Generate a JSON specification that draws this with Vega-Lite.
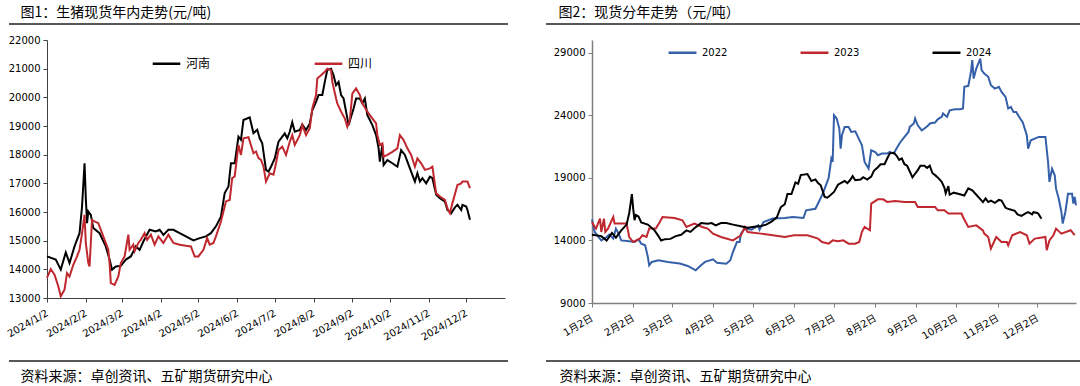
{
  "$schema": "https://vega.github.io/schema/vega-lite/v6.json",
  "padding": {"left": 5, "top": 5, "right": 0, "bottom": 4},
  "background": "white",
  "config": {
    "view": {"stroke": null},
    "axis": {"grid": false, "labelOverlap": false, "labelFont": "DejaVu Sans, Noto Sans CJK SC", "labelFontSize": 10, "labelColor": "#000000", "titleFontWeight": "normal", "titleColor": "#000000"}
  },
  "resolve": {"scale": {"color": "independent"}, "legend": {"color": "independent"}},
  "datasets": {
    "pig": [
      {"date": "2022/01/02", "year": "2022", "v": 15680}, {"date": "2022/01/04", "year": "2022", "v": 14670}, {"date": "2022/01/06", "year": "2022", "v": 14400}, {"date": "2022/01/09", "year": "2022", "v": 14000}, {"date": "2022/01/13", "year": "2022", "v": 14270}, {"date": "2022/01/15", "year": "2022", "v": 14460}, {"date": "2022/01/18", "year": "2022", "v": 14140}, {"date": "2022/01/20", "year": "2022", "v": 14940}, {"date": "2022/01/22", "year": "2022", "v": 14540}, {"date": "2022/01/24", "year": "2022", "v": 14000}, {"date": "2022/01/30", "year": "2022", "v": 13930}, {"date": "2022/02/03", "year": "2022", "v": 13870}, {"date": "2022/02/06", "year": "2022", "v": 14080}, {"date": "2022/02/08", "year": "2022", "v": 13740}, {"date": "2022/02/11", "year": "2022", "v": 13610}, {"date": "2022/02/13", "year": "2022", "v": 12680}, {"date": "2022/02/14", "year": "2022", "v": 12010}, {"date": "2022/02/16", "year": "2022", "v": 12280}, {"date": "2022/02/21", "year": "2022", "v": 12410}, {"date": "2022/02/28", "year": "2022", "v": 12280}, {"date": "2022/03/08", "year": "2022", "v": 12150}, {"date": "2022/03/14", "year": "2022", "v": 11960}, {"date": "2022/03/20", "year": "2022", "v": 11610}, {"date": "2022/03/24", "year": "2022", "v": 12010}, {"date": "2022/03/27", "year": "2022", "v": 12280}, {"date": "2022/04/02", "year": "2022", "v": 12490}, {"date": "2022/04/05", "year": "2022", "v": 12220}, {"date": "2022/04/12", "year": "2022", "v": 12140}, {"date": "2022/04/15", "year": "2022", "v": 12410}, {"date": "2022/04/17", "year": "2022", "v": 13070}, {"date": "2022/04/20", "year": "2022", "v": 13870}, {"date": "2022/04/22", "year": "2022", "v": 13870}, {"date": "2022/04/23", "year": "2022", "v": 14540}, {"date": "2022/04/26", "year": "2022", "v": 14940}, {"date": "2022/05/01", "year": "2022", "v": 14860}, {"date": "2022/05/06", "year": "2022", "v": 15200}, {"date": "2022/05/07", "year": "2022", "v": 14860}, {"date": "2022/05/10", "year": "2022", "v": 15470}, {"date": "2022/05/17", "year": "2022", "v": 15740}, {"date": "2022/05/26", "year": "2022", "v": 15790}, {"date": "2022/06/01", "year": "2022", "v": 15870}, {"date": "2022/06/09", "year": "2022", "v": 15790}, {"date": "2022/06/11", "year": "2022", "v": 16400}, {"date": "2022/06/18", "year": "2022", "v": 16520}, {"date": "2022/06/20", "year": "2022", "v": 16940}, {"date": "2022/06/23", "year": "2022", "v": 17600}, {"date": "2022/06/25", "year": "2022", "v": 18130}, {"date": "2022/06/28", "year": "2022", "v": 19000}, {"date": "2022/06/30", "year": "2022", "v": 20530}, {"date": "2022/07/01", "year": "2022", "v": 20260}, {"date": "2022/07/02", "year": "2022", "v": 23990}, {"date": "2022/07/04", "year": "2022", "v": 23730}, {"date": "2022/07/06", "year": "2022", "v": 22930}, {"date": "2022/07/07", "year": "2022", "v": 21330}, {"date": "2022/07/08", "year": "2022", "v": 22400}, {"date": "2022/07/10", "year": "2022", "v": 23060}, {"date": "2022/07/13", "year": "2022", "v": 23060}, {"date": "2022/07/15", "year": "2022", "v": 22660}, {"date": "2022/07/18", "year": "2022", "v": 22710}, {"date": "2022/07/20", "year": "2022", "v": 22260}, {"date": "2022/07/23", "year": "2022", "v": 21600}, {"date": "2022/07/25", "year": "2022", "v": 20260}, {"date": "2022/07/28", "year": "2022", "v": 19730}, {"date": "2022/07/30", "year": "2022", "v": 21200}, {"date": "2022/08/02", "year": "2022", "v": 21060}, {"date": "2022/08/04", "year": "2022", "v": 20800}, {"date": "2022/08/07", "year": "2022", "v": 20930}, {"date": "2022/08/11", "year": "2022", "v": 20930}, {"date": "2022/08/13", "year": "2022", "v": 21060}, {"date": "2022/08/16", "year": "2022", "v": 20930}, {"date": "2022/08/18", "year": "2022", "v": 21330}, {"date": "2022/08/21", "year": "2022", "v": 21860}, {"date": "2022/08/23", "year": "2022", "v": 22130}, {"date": "2022/08/27", "year": "2022", "v": 22660}, {"date": "2022/08/28", "year": "2022", "v": 23060}, {"date": "2022/08/31", "year": "2022", "v": 23330}, {"date": "2022/09/01", "year": "2022", "v": 23730}, {"date": "2022/09/03", "year": "2022", "v": 23190}, {"date": "2022/09/06", "year": "2022", "v": 22790}, {"date": "2022/09/08", "year": "2022", "v": 22930}, {"date": "2022/09/11", "year": "2022", "v": 23190}, {"date": "2022/09/12", "year": "2022", "v": 23330}, {"date": "2022/09/16", "year": "2022", "v": 23410}, {"date": "2022/09/18", "year": "2022", "v": 23670}, {"date": "2022/09/21", "year": "2022", "v": 23860}, {"date": "2022/09/22", "year": "2022", "v": 24130}, {"date": "2022/09/25", "year": "2022", "v": 23860}, {"date": "2022/09/27", "year": "2022", "v": 24390}, {"date": "2022/10/01", "year": "2022", "v": 24470}, {"date": "2022/10/05", "year": "2022", "v": 24470}, {"date": "2022/10/07", "year": "2022", "v": 24530}, {"date": "2022/10/08", "year": "2022", "v": 26260}, {"date": "2022/10/11", "year": "2022", "v": 26340}, {"date": "2022/10/13", "year": "2022", "v": 27450}, {"date": "2022/10/14", "year": "2022", "v": 28390}, {"date": "2022/10/15", "year": "2022", "v": 26920}, {"date": "2022/10/17", "year": "2022", "v": 27720}, {"date": "2022/10/20", "year": "2022", "v": 28520}, {"date": "2022/10/21", "year": "2022", "v": 27590}, {"date": "2022/10/23", "year": "2022", "v": 27320}, {"date": "2022/10/26", "year": "2022", "v": 27060}, {"date": "2022/10/28", "year": "2022", "v": 26390}, {"date": "2022/10/31", "year": "2022", "v": 26120}, {"date": "2022/11/03", "year": "2022", "v": 26260}, {"date": "2022/11/05", "year": "2022", "v": 25860}, {"date": "2022/11/08", "year": "2022", "v": 25460}, {"date": "2022/11/10", "year": "2022", "v": 24530}, {"date": "2022/11/12", "year": "2022", "v": 24660}, {"date": "2022/11/14", "year": "2022", "v": 24260}, {"date": "2022/11/16", "year": "2022", "v": 24260}, {"date": "2022/11/19", "year": "2022", "v": 23730}, {"date": "2022/11/21", "year": "2022", "v": 23410}, {"date": "2022/11/24", "year": "2022", "v": 22400}, {"date": "2022/11/25", "year": "2022", "v": 21330}, {"date": "2022/11/27", "year": "2022", "v": 21990}, {"date": "2022/11/30", "year": "2022", "v": 22130}, {"date": "2022/12/03", "year": "2022", "v": 22260}, {"date": "2022/12/08", "year": "2022", "v": 22260}, {"date": "2022/12/10", "year": "2022", "v": 20260}, {"date": "2022/12/11", "year": "2022", "v": 18670}, {"date": "2022/12/13", "year": "2022", "v": 19730}, {"date": "2022/12/15", "year": "2022", "v": 19200}, {"date": "2022/12/16", "year": "2022", "v": 18130}, {"date": "2022/12/18", "year": "2022", "v": 17340}, {"date": "2022/12/20", "year": "2022", "v": 16270}, {"date": "2022/12/21", "year": "2022", "v": 15340}, {"date": "2022/12/23", "year": "2022", "v": 16270}, {"date": "2022/12/25", "year": "2022", "v": 17730}, {"date": "2022/12/28", "year": "2022", "v": 17730}, {"date": "2022/12/29", "year": "2022", "v": 16940}, {"date": "2022/12/30", "year": "2022", "v": 17470}, {"date": "2022/12/31", "year": "2022", "v": 16800},
      {"date": "2023/01/02", "year": "2023", "v": 15470}, {"date": "2023/01/04", "year": "2023", "v": 15070}, {"date": "2023/01/05", "year": "2023", "v": 14940}, {"date": "2023/01/08", "year": "2023", "v": 15740}, {"date": "2023/01/09", "year": "2023", "v": 14670}, {"date": "2023/01/11", "year": "2023", "v": 15740}, {"date": "2023/01/12", "year": "2023", "v": 14670}, {"date": "2023/01/14", "year": "2023", "v": 14940}, {"date": "2023/01/18", "year": "2023", "v": 15870}, {"date": "2023/01/19", "year": "2023", "v": 15340}, {"date": "2023/01/28", "year": "2023", "v": 15340}, {"date": "2023/01/30", "year": "2023", "v": 14270}, {"date": "2023/02/02", "year": "2023", "v": 13870}, {"date": "2023/02/07", "year": "2023", "v": 14140}, {"date": "2023/02/09", "year": "2023", "v": 14410}, {"date": "2023/02/12", "year": "2023", "v": 14270}, {"date": "2023/02/14", "year": "2023", "v": 14940}, {"date": "2023/02/19", "year": "2023", "v": 14940}, {"date": "2023/02/22", "year": "2023", "v": 15470}, {"date": "2023/02/24", "year": "2023", "v": 15870}, {"date": "2023/03/04", "year": "2023", "v": 15790}, {"date": "2023/03/10", "year": "2023", "v": 15600}, {"date": "2023/03/13", "year": "2023", "v": 15070}, {"date": "2023/03/19", "year": "2023", "v": 15340}, {"date": "2023/03/25", "year": "2023", "v": 15070}, {"date": "2023/03/29", "year": "2023", "v": 14940}, {"date": "2023/04/02", "year": "2023", "v": 14540}, {"date": "2023/04/08", "year": "2023", "v": 14270}, {"date": "2023/04/17", "year": "2023", "v": 14000}, {"date": "2023/04/23", "year": "2023", "v": 14410}, {"date": "2023/04/26", "year": "2023", "v": 15070}, {"date": "2023/04/28", "year": "2023", "v": 14670}, {"date": "2023/05/08", "year": "2023", "v": 14540}, {"date": "2023/05/17", "year": "2023", "v": 14410}, {"date": "2023/05/26", "year": "2023", "v": 14270}, {"date": "2023/06/02", "year": "2023", "v": 14410}, {"date": "2023/06/12", "year": "2023", "v": 14410}, {"date": "2023/06/20", "year": "2023", "v": 14140}, {"date": "2023/06/23", "year": "2023", "v": 13870}, {"date": "2023/06/28", "year": "2023", "v": 13740}, {"date": "2023/07/01", "year": "2023", "v": 14000}, {"date": "2023/07/05", "year": "2023", "v": 13930}, {"date": "2023/07/09", "year": "2023", "v": 14000}, {"date": "2023/07/13", "year": "2023", "v": 13740}, {"date": "2023/07/18", "year": "2023", "v": 13740}, {"date": "2023/07/21", "year": "2023", "v": 13870}, {"date": "2023/07/23", "year": "2023", "v": 14680}, {"date": "2023/07/25", "year": "2023", "v": 15070}, {"date": "2023/07/29", "year": "2023", "v": 14810}, {"date": "2023/07/30", "year": "2023", "v": 16940}, {"date": "2023/08/04", "year": "2023", "v": 17280}, {"date": "2023/08/08", "year": "2023", "v": 17280}, {"date": "2023/08/11", "year": "2023", "v": 17070}, {"date": "2023/08/17", "year": "2023", "v": 17150}, {"date": "2023/08/24", "year": "2023", "v": 17070}, {"date": "2023/09/01", "year": "2023", "v": 17070}, {"date": "2023/09/03", "year": "2023", "v": 16670}, {"date": "2023/09/11", "year": "2023", "v": 16670}, {"date": "2023/09/16", "year": "2023", "v": 16670}, {"date": "2023/09/18", "year": "2023", "v": 16400}, {"date": "2023/09/23", "year": "2023", "v": 16400}, {"date": "2023/09/26", "year": "2023", "v": 16140}, {"date": "2023/10/06", "year": "2023", "v": 16140}, {"date": "2023/10/07", "year": "2023", "v": 15870}, {"date": "2023/10/11", "year": "2023", "v": 15070}, {"date": "2023/10/17", "year": "2023", "v": 15200}, {"date": "2023/10/22", "year": "2023", "v": 14800}, {"date": "2023/10/23", "year": "2023", "v": 14540}, {"date": "2023/10/26", "year": "2023", "v": 14270}, {"date": "2023/10/28", "year": "2023", "v": 13340}, {"date": "2023/11/01", "year": "2023", "v": 14270}, {"date": "2023/11/05", "year": "2023", "v": 13870}, {"date": "2023/11/09", "year": "2023", "v": 13870}, {"date": "2023/11/10", "year": "2023", "v": 13610}, {"date": "2023/11/13", "year": "2023", "v": 14410}, {"date": "2023/11/19", "year": "2023", "v": 14670}, {"date": "2023/11/24", "year": "2023", "v": 14410}, {"date": "2023/11/26", "year": "2023", "v": 13740}, {"date": "2023/11/30", "year": "2023", "v": 14140}, {"date": "2023/12/08", "year": "2023", "v": 14270}, {"date": "2023/12/09", "year": "2023", "v": 13210}, {"date": "2023/12/11", "year": "2023", "v": 14000}, {"date": "2023/12/14", "year": "2023", "v": 14410}, {"date": "2023/12/16", "year": "2023", "v": 14940}, {"date": "2023/12/20", "year": "2023", "v": 14540}, {"date": "2023/12/27", "year": "2023", "v": 14810}, {"date": "2023/12/30", "year": "2023", "v": 14410},
      {"date": "2024/01/02", "region": "河南", "year": "2024", "v": 14450}, {"date": "2024/01/09", "region": "河南", "year": "2024", "v": 14340}, {"date": "2024/01/13", "region": "河南", "year": "2024", "v": 13990}, {"date": "2024/01/17", "region": "河南", "year": "2024", "v": 14590}, {"date": "2024/01/20", "region": "河南", "year": "2024", "v": 14220}, {"date": "2024/01/24", "region": "河南", "year": "2024", "v": 14800}, {"date": "2024/01/28", "region": "河南", "year": "2024", "v": 15260}, {"date": "2024/01/30", "region": "河南", "year": "2024", "v": 16190}, {"date": "2024/02/01", "region": "河南", "year": "2024", "v": 17700}, {"date": "2024/02/02", "region": "河南", "year": "2024", "v": 16500}, {"date": "2024/02/03", "region": "河南", "year": "2024", "v": 15610}, {"date": "2024/02/04", "region": "河南", "year": "2024", "v": 16020}, {"date": "2024/02/06", "region": "河南", "year": "2024", "v": 15900}, {"date": "2024/02/08", "region": "河南", "year": "2024", "v": 15440}, {"date": "2024/02/13", "region": "河南", "year": "2024", "v": 15260}, {"date": "2024/02/18", "region": "河南", "year": "2024", "v": 14800}, {"date": "2024/02/21", "region": "河南", "year": "2024", "v": 14340}, {"date": "2024/02/23", "region": "河南", "year": "2024", "v": 13990}, {"date": "2024/02/26", "region": "河南", "year": "2024", "v": 14100}, {"date": "2024/03/01", "region": "河南", "year": "2024", "v": 14120}, {"date": "2024/03/05", "region": "河南", "year": "2024", "v": 14340}, {"date": "2024/03/09", "region": "河南", "year": "2024", "v": 14450}, {"date": "2024/03/13", "region": "河南", "year": "2024", "v": 14800}, {"date": "2024/03/16", "region": "河南", "year": "2024", "v": 14680}, {"date": "2024/03/19", "region": "河南", "year": "2024", "v": 14970}, {"date": "2024/03/24", "region": "河南", "year": "2024", "v": 15380}, {"date": "2024/03/29", "region": "河南", "year": "2024", "v": 15320}, {"date": "2024/04/01", "region": "河南", "year": "2024", "v": 15380}, {"date": "2024/04/04", "region": "河南", "year": "2024", "v": 15200}, {"date": "2024/04/08", "region": "河南", "year": "2024", "v": 15380}, {"date": "2024/04/12", "region": "河南", "year": "2024", "v": 15380}, {"date": "2024/04/17", "region": "河南", "year": "2024", "v": 15260}, {"date": "2024/04/22", "region": "河南", "year": "2024", "v": 15150}, {"date": "2024/04/28", "region": "河南", "year": "2024", "v": 15010}, {"date": "2024/05/03", "region": "河南", "year": "2024", "v": 15090}, {"date": "2024/05/08", "region": "河南", "year": "2024", "v": 15150}, {"date": "2024/05/12", "region": "河南", "year": "2024", "v": 15260}, {"date": "2024/05/16", "region": "河南", "year": "2024", "v": 15500}, {"date": "2024/05/20", "region": "河南", "year": "2024", "v": 15840}, {"date": "2024/05/23", "region": "河南", "year": "2024", "v": 16660}, {"date": "2024/05/26", "region": "河南", "year": "2024", "v": 16890}, {"date": "2024/05/28", "region": "河南", "year": "2024", "v": 17700}, {"date": "2024/05/31", "region": "河南", "year": "2024", "v": 17700}, {"date": "2024/06/03", "region": "河南", "year": "2024", "v": 18630}, {"date": "2024/06/05", "region": "河南", "year": "2024", "v": 18520}, {"date": "2024/06/07", "region": "河南", "year": "2024", "v": 19210}, {"date": "2024/06/12", "region": "河南", "year": "2024", "v": 19300}, {"date": "2024/06/15", "region": "河南", "year": "2024", "v": 18750}, {"date": "2024/06/18", "region": "河南", "year": "2024", "v": 18870}, {"date": "2024/06/20", "region": "河南", "year": "2024", "v": 18570}, {"date": "2024/06/22", "region": "河南", "year": "2024", "v": 18400}, {"date": "2024/06/25", "region": "河南", "year": "2024", "v": 17470}, {"date": "2024/06/27", "region": "河南", "year": "2024", "v": 17410}, {"date": "2024/06/29", "region": "河南", "year": "2024", "v": 17580}, {"date": "2024/07/02", "region": "河南", "year": "2024", "v": 17870}, {"date": "2024/07/05", "region": "河南", "year": "2024", "v": 18450}, {"date": "2024/07/07", "region": "河南", "year": "2024", "v": 18570}, {"date": "2024/07/10", "region": "河南", "year": "2024", "v": 18740}, {"date": "2024/07/12", "region": "河南", "year": "2024", "v": 18570}, {"date": "2024/07/14", "region": "河南", "year": "2024", "v": 18800}, {"date": "2024/07/16", "region": "河南", "year": "2024", "v": 19130}, {"date": "2024/07/18", "region": "河南", "year": "2024", "v": 18800}, {"date": "2024/07/22", "region": "河南", "year": "2024", "v": 18860}, {"date": "2024/07/24", "region": "河南", "year": "2024", "v": 19050}, {"date": "2024/07/27", "region": "河南", "year": "2024", "v": 18860}, {"date": "2024/07/30", "region": "河南", "year": "2024", "v": 19090}, {"date": "2024/08/01", "region": "河南", "year": "2024", "v": 19550}, {"date": "2024/08/04", "region": "河南", "year": "2024", "v": 19840}, {"date": "2024/08/06", "region": "河南", "year": "2024", "v": 20080}, {"date": "2024/08/09", "region": "河南", "year": "2024", "v": 20080}, {"date": "2024/08/11", "region": "河南", "year": "2024", "v": 20540}, {"date": "2024/08/13", "region": "河南", "year": "2024", "v": 20950}, {"date": "2024/08/16", "region": "河南", "year": "2024", "v": 21000}, {"date": "2024/08/18", "region": "河南", "year": "2024", "v": 20770}, {"date": "2024/08/20", "region": "河南", "year": "2024", "v": 20420}, {"date": "2024/08/22", "region": "河南", "year": "2024", "v": 20540}, {"date": "2024/08/24", "region": "河南", "year": "2024", "v": 20080}, {"date": "2024/08/26", "region": "河南", "year": "2024", "v": 19960}, {"date": "2024/08/28", "region": "河南", "year": "2024", "v": 19500}, {"date": "2024/08/30", "region": "河南", "year": "2024", "v": 19030}, {"date": "2024/09/01", "region": "河南", "year": "2024", "v": 19320}, {"date": "2024/09/03", "region": "河南", "year": "2024", "v": 19610}, {"date": "2024/09/05", "region": "河南", "year": "2024", "v": 19960}, {"date": "2024/09/08", "region": "河南", "year": "2024", "v": 19960}, {"date": "2024/09/10", "region": "河南", "year": "2024", "v": 19790}, {"date": "2024/09/12", "region": "河南", "year": "2024", "v": 19960}, {"date": "2024/09/14", "region": "河南", "year": "2024", "v": 19380}, {"date": "2024/09/16", "region": "河南", "year": "2024", "v": 19210}, {"date": "2024/09/18", "region": "河南", "year": "2024", "v": 19030}, {"date": "2024/09/21", "region": "河南", "year": "2024", "v": 18680}, {"date": "2024/09/23", "region": "河南", "year": "2024", "v": 18220}, {"date": "2024/09/24", "region": "河南", "year": "2024", "v": 17760}, {"date": "2024/09/26", "region": "河南", "year": "2024", "v": 18340}, {"date": "2024/09/27", "region": "河南", "year": "2024", "v": 17640}, {"date": "2024/09/30", "region": "河南", "year": "2024", "v": 17810}, {"date": "2024/10/04", "region": "河南", "year": "2024", "v": 17700}, {"date": "2024/10/08", "region": "河南", "year": "2024", "v": 17580}, {"date": "2024/10/11", "region": "河南", "year": "2024", "v": 18160}, {"date": "2024/10/14", "region": "河南", "year": "2024", "v": 17990}, {"date": "2024/10/16", "region": "河南", "year": "2024", "v": 17760}, {"date": "2024/10/19", "region": "河南", "year": "2024", "v": 17410}, {"date": "2024/10/22", "region": "河南", "year": "2024", "v": 17060}, {"date": "2024/10/24", "region": "河南", "year": "2024", "v": 17350}, {"date": "2024/10/26", "region": "河南", "year": "2024", "v": 17060}, {"date": "2024/10/28", "region": "河南", "year": "2024", "v": 17180}, {"date": "2024/10/31", "region": "河南", "year": "2024", "v": 17000}, {"date": "2024/11/03", "region": "河南", "year": "2024", "v": 17230}, {"date": "2024/11/05", "region": "河南", "year": "2024", "v": 17180}, {"date": "2024/11/08", "region": "河南", "year": "2024", "v": 16600}, {"date": "2024/11/11", "region": "河南", "year": "2024", "v": 16480}, {"date": "2024/11/15", "region": "河南", "year": "2024", "v": 16360}, {"date": "2024/11/17", "region": "河南", "year": "2024", "v": 16070}, {"date": "2024/11/20", "region": "河南", "year": "2024", "v": 15960}, {"date": "2024/11/23", "region": "河南", "year": "2024", "v": 16160}, {"date": "2024/11/25", "region": "河南", "year": "2024", "v": 16250}, {"date": "2024/11/28", "region": "河南", "year": "2024", "v": 16070}, {"date": "2024/11/29", "region": "河南", "year": "2024", "v": 16250}, {"date": "2024/12/02", "region": "河南", "year": "2024", "v": 16190}, {"date": "2024/12/03", "region": "河南", "year": "2024", "v": 16070}, {"date": "2024/12/05", "region": "河南", "year": "2024", "v": 15730},
      {"date": "2024/01/02", "region": "四川", "v": 13700}, {"date": "2024/01/05", "region": "四川", "v": 14010}, {"date": "2024/01/08", "region": "四川", "v": 13810}, {"date": "2024/01/11", "region": "四川", "v": 13410}, {"date": "2024/01/13", "region": "四川", "v": 13060}, {"date": "2024/01/16", "region": "四川", "v": 13290}, {"date": "2024/01/18", "region": "四川", "v": 13870}, {"date": "2024/01/20", "region": "四川", "v": 13750}, {"date": "2024/01/23", "region": "四川", "v": 14160}, {"date": "2024/01/26", "region": "四川", "v": 14450}, {"date": "2024/01/28", "region": "四川", "v": 14680}, {"date": "2024/01/30", "region": "四川", "v": 15260}, {"date": "2024/02/01", "region": "四川", "v": 15900}, {"date": "2024/02/02", "region": "四川", "v": 14920}, {"date": "2024/02/04", "region": "四川", "v": 14220}, {"date": "2024/02/05", "region": "四川", "v": 14100}, {"date": "2024/02/07", "region": "四川", "v": 15730}, {"date": "2024/02/09", "region": "四川", "v": 15670}, {"date": "2024/02/12", "region": "四川", "v": 15610}, {"date": "2024/02/16", "region": "四川", "v": 15150}, {"date": "2024/02/20", "region": "四川", "v": 14680}, {"date": "2024/02/21", "region": "四川", "v": 14220}, {"date": "2024/02/22", "region": "四川", "v": 13520}, {"date": "2024/02/25", "region": "四川", "v": 13460}, {"date": "2024/02/28", "region": "四川", "v": 13750}, {"date": "2024/03/01", "region": "四川", "v": 14220}, {"date": "2024/03/04", "region": "四川", "v": 14450}, {"date": "2024/03/07", "region": "四川", "v": 15210}, {"date": "2024/03/08", "region": "四川", "v": 14680}, {"date": "2024/03/11", "region": "四川", "v": 14860}, {"date": "2024/03/12", "region": "四川", "v": 14630}, {"date": "2024/03/15", "region": "四川", "v": 14920}, {"date": "2024/03/17", "region": "四川", "v": 15030}, {"date": "2024/03/20", "region": "四川", "v": 15260}, {"date": "2024/03/22", "region": "四川", "v": 15030}, {"date": "2024/03/25", "region": "四川", "v": 15210}, {"date": "2024/03/28", "region": "四川", "v": 14860}, {"date": "2024/03/31", "region": "四川", "v": 15150}, {"date": "2024/04/04", "region": "四川", "v": 14920}, {"date": "2024/04/08", "region": "四川", "v": 15210}, {"date": "2024/04/12", "region": "四川", "v": 14920}, {"date": "2024/04/17", "region": "四川", "v": 14860}, {"date": "2024/04/22", "region": "四川", "v": 14820}, {"date": "2024/04/26", "region": "四川", "v": 14800}, {"date": "2024/04/29", "region": "四川", "v": 14450}, {"date": "2024/05/02", "region": "四川", "v": 14450}, {"date": "2024/05/06", "region": "四川", "v": 14680}, {"date": "2024/05/09", "region": "四川", "v": 15090}, {"date": "2024/05/11", "region": "四川", "v": 14860}, {"date": "2024/05/14", "region": "四川", "v": 14920}, {"date": "2024/05/16", "region": "四川", "v": 15150}, {"date": "2024/05/20", "region": "四川", "v": 15670}, {"date": "2024/05/24", "region": "四川", "v": 16370}, {"date": "2024/05/27", "region": "四川", "v": 16420}, {"date": "2024/05/29", "region": "四川", "v": 17180}, {"date": "2024/05/31", "region": "四川", "v": 17240}, {"date": "2024/06/03", "region": "四川", "v": 18340}, {"date": "2024/06/05", "region": "四川", "v": 17990}, {"date": "2024/06/07", "region": "四川", "v": 18570}, {"date": "2024/06/11", "region": "四川", "v": 18610}, {"date": "2024/06/15", "region": "四川", "v": 18050}, {"date": "2024/06/17", "region": "四川", "v": 18110}, {"date": "2024/06/19", "region": "四川", "v": 17880}, {"date": "2024/06/21", "region": "四川", "v": 17820}, {"date": "2024/06/23", "region": "四川", "v": 17590}, {"date": "2024/06/25", "region": "四川", "v": 17060}, {"date": "2024/06/28", "region": "四川", "v": 17350}, {"date": "2024/07/01", "region": "四川", "v": 17300}, {"date": "2024/07/03", "region": "四川", "v": 17700}, {"date": "2024/07/05", "region": "四川", "v": 18160}, {"date": "2024/07/08", "region": "四川", "v": 18280}, {"date": "2024/07/11", "region": "四川", "v": 17990}, {"date": "2024/07/14", "region": "四川", "v": 18450}, {"date": "2024/07/16", "region": "四川", "v": 18680}, {"date": "2024/07/18", "region": "四川", "v": 18340}, {"date": "2024/07/22", "region": "四川", "v": 18680}, {"date": "2024/07/24", "region": "四川", "v": 19030}, {"date": "2024/07/27", "region": "四川", "v": 18680}, {"date": "2024/07/30", "region": "四川", "v": 18920}, {"date": "2024/08/01", "region": "四川", "v": 19610}, {"date": "2024/08/04", "region": "四川", "v": 20080}, {"date": "2024/08/05", "region": "四川", "v": 20660}, {"date": "2024/08/08", "region": "四川", "v": 20770}, {"date": "2024/08/11", "region": "四川", "v": 20890}, {"date": "2024/08/13", "region": "四川", "v": 21000}, {"date": "2024/08/16", "region": "四川", "v": 20950}, {"date": "2024/08/17", "region": "四川", "v": 20540}, {"date": "2024/08/20", "region": "四川", "v": 19960}, {"date": "2024/08/21", "region": "四川", "v": 19790}, {"date": "2024/08/24", "region": "四川", "v": 19500}, {"date": "2024/08/27", "region": "四川", "v": 19260}, {"date": "2024/08/29", "region": "四川", "v": 18970}, {"date": "2024/08/31", "region": "四川", "v": 19210}, {"date": "2024/09/02", "region": "四川", "v": 20130}, {"date": "2024/09/05", "region": "四川", "v": 20310}, {"date": "2024/09/08", "region": "四川", "v": 20080}, {"date": "2024/09/10", "region": "四川", "v": 19790}, {"date": "2024/09/14", "region": "四川", "v": 19500}, {"date": "2024/09/17", "region": "四川", "v": 19320}, {"date": "2024/09/21", "region": "四川", "v": 19090}, {"date": "2024/09/22", "region": "四川", "v": 18680}, {"date": "2024/09/24", "region": "四川", "v": 18340}, {"date": "2024/09/26", "region": "四川", "v": 18390}, {"date": "2024/09/27", "region": "四川", "v": 17930}, {"date": "2024/09/30", "region": "四川", "v": 17990}, {"date": "2024/10/04", "region": "四川", "v": 18100}, {"date": "2024/10/08", "region": "四川", "v": 18220}, {"date": "2024/10/10", "region": "四川", "v": 18680}, {"date": "2024/10/13", "region": "四川", "v": 18510}, {"date": "2024/10/16", "region": "四川", "v": 18220}, {"date": "2024/10/19", "region": "四川", "v": 17990}, {"date": "2024/10/22", "region": "四川", "v": 17580}, {"date": "2024/10/24", "region": "四川", "v": 17870}, {"date": "2024/10/27", "region": "四川", "v": 17700}, {"date": "2024/10/30", "region": "四川", "v": 17470}, {"date": "2024/11/03", "region": "四川", "v": 17520}, {"date": "2024/11/05", "region": "四川", "v": 17580}, {"date": "2024/11/08", "region": "四川", "v": 16650}, {"date": "2024/11/11", "region": "四川", "v": 16540}, {"date": "2024/11/15", "region": "四川", "v": 16420}, {"date": "2024/11/17", "region": "四川", "v": 16130}, {"date": "2024/11/19", "region": "四川", "v": 15960}, {"date": "2024/11/21", "region": "四川", "v": 16310}, {"date": "2024/11/25", "region": "四川", "v": 16940}, {"date": "2024/11/28", "region": "四川", "v": 17000}, {"date": "2024/11/29", "region": "四川", "v": 17060}, {"date": "2024/12/03", "region": "四川", "v": 17060}, {"date": "2024/12/05", "region": "四川", "v": 16830}
    ]
  },
  "spacing": 87,
  "bounds": "flush",
  "hconcat": [
    {
      "width": 458,
      "height": 258,
      "data": {"name": "pig"},
      "transform": [{"filter": "isValid(datum.region)"}],
      "layer": [
        {
          "mark": {"type": "line", "strokeWidth": 2},
          "encoding": {
            "x": {
              "field": "date", "type": "temporal",
              "scale": {"domain": [{"year": 2024, "month": 1, "date": 2}, {"year": 2025, "month": 1, "date": 2}]},
              "axis": {
                "values": [{"year": 2024, "month": 1, "date": 2}, {"year": 2024, "month": 2, "date": 2}, {"year": 2024, "month": 3, "date": 2}, {"year": 2024, "month": 4, "date": 2}, {"year": 2024, "month": 5, "date": 2}, {"year": 2024, "month": 6, "date": 2}, {"year": 2024, "month": 7, "date": 2}, {"year": 2024, "month": 8, "date": 2}, {"year": 2024, "month": 9, "date": 2}, {"year": 2024, "month": 10, "date": 2}, {"year": 2024, "month": 11, "date": 2}, {"year": 2024, "month": 12, "date": 2}],
                "format": "%Y/%-m/%-d", "labelAngle": -30, "labelAlign": "right", "labelBaseline": "middle", "labelPadding": 10,
                "labelOverlap": false, "labelFlush": false, "tickSize": 4, "tickColor": "#404040", "domainColor": "#404040",
                "title": "资料来源：卓创资讯、五矿期货研究中心", "titleFont": "Noto Sans CJK SC", "titleFontSize": 14, "titleX": -27, "titleY": 78, "titleAlign": "left", "titleAnchor": "start", "titleBaseline": "middle", "titleAngle": 0
              }
            },
            "y": {
              "field": "v", "type": "quantitative",
              "scale": {"domain": [13000, 22000], "zero": false, "nice": false},
              "axis": {"values": [13000, 14000, 15000, 16000, 17000, 18000, 19000, 20000, 21000, 22000], "format": "d", "labelOverlap": false, "tickSize": 4, "tickColor": "#404040", "domainColor": "#404040", "labelPadding": 3,
                "title": "图1：生猪现货年内走势(元/吨)", "titleFont": "Noto Sans CJK SC", "titleFontSize": 14, "titleX": -27, "titleY": -28, "titleAlign": "left", "titleAnchor": "start", "titleBaseline": "middle", "titleAngle": 0}
            },
            "color": {
              "field": "region", "type": "nominal",
              "scale": {"domain": ["河南", "四川"], "range": ["#000000", "#C0282F"]},
              "legend": {"orient": "none", "legendX": 104, "legendY": 8, "direction": "horizontal", "title": null, "padding": 0, "symbolType": "stroke", "symbolSize": 760, "symbolStrokeWidth": 2.5, "labelFont": "Noto Sans CJK SC", "labelFontSize": 12, "labelColor": "#000000", "labelOffset": 4, "columnPadding": 98}
            }
          }
        },
        {
          "mark": {"type": "rule", "color": "#595959", "strokeWidth": 1.5},
          "encoding": {
            "x": {"datum": {"year": 2023, "month": 12, "date": 3}, "type": "temporal"},
            "x2": {"datum": {"year": 2025, "month": 1, "date": 4}},
            "y": {"datum": 22558, "type": "quantitative", "axis": {"values": [13000, 14000, 15000, 16000, 17000, 18000, 19000, 20000, 21000, 22000], "labelOverlap": false}}
          }
        },
        {
          "mark": {"type": "rule", "color": "#595959", "strokeWidth": 1.5},
          "encoding": {
            "x": {"datum": {"year": 2023, "month": 12, "date": 3}, "type": "temporal"},
            "x2": {"datum": {"year": 2025, "month": 1, "date": 4}},
            "y": {"datum": 10802, "type": "quantitative", "axis": {"values": [13000, 14000, 15000, 16000, 17000, 18000, 19000, 20000, 21000, 22000], "labelOverlap": false}}
          }
        }
      ]
    },
    {
      "width": 484,
      "height": 263,
      "data": {"name": "pig"},
      "transform": [{"filter": "isValid(datum.year)"}],
      "layer": [
        {
          "mark": {"type": "line", "strokeWidth": 2},
          "encoding": {
            "x": {
              "field": "date", "type": "temporal", "timeUnit": "monthdate",
              "scale": {"domain": [{"year": 2012, "month": 1, "date": 2}, {"year": 2012, "month": 12, "date": 31}]},
              "axis": {
                "values": [{"year": 2012, "month": 1, "date": 2}, {"year": 2012, "month": 2, "date": 2}, {"year": 2012, "month": 3, "date": 2}, {"year": 2012, "month": 4, "date": 2}, {"year": 2012, "month": 5, "date": 2}, {"year": 2012, "month": 6, "date": 2}, {"year": 2012, "month": 7, "date": 2}, {"year": 2012, "month": 8, "date": 2}, {"year": 2012, "month": 9, "date": 2}, {"year": 2012, "month": 10, "date": 2}, {"year": 2012, "month": 11, "date": 2}, {"year": 2012, "month": 12, "date": 2}],
                "format": "%-m月%-d日", "formatType": "time", "labelAngle": -30, "labelAlign": "right", "labelBaseline": "middle", "labelPadding": 10,
                "labelOverlap": false, "labelFlush": false, "tickSize": 4, "tickColor": "#7f7f7f", "domainColor": "#7f7f7f", "domainWidth": 1.5,
                "title": "资料来源：卓创资讯、五矿期货研究中心", "titleFont": "Noto Sans CJK SC", "titleFontSize": 14, "titleX": -33, "titleY": 73, "titleAlign": "left", "titleAnchor": "start", "titleBaseline": "middle", "titleAngle": 0
              }
            },
            "y": {
              "field": "v", "type": "quantitative",
              "scale": {"domain": [9000, 30000], "zero": false, "nice": false},
              "axis": {"values": [9000, 14000, 19000, 24000, 29000], "format": "d", "labelOverlap": false, "tickSize": 4, "tickColor": "#7f7f7f", "domainColor": "#7f7f7f", "domainWidth": 1.5, "labelPadding": 3,
                "title": "图2：现货分年走势（元/吨）", "titleFont": "Noto Sans CJK SC", "titleFontSize": 14, "titleX": -34, "titleY": -28, "titleAlign": "left", "titleAnchor": "start", "titleBaseline": "middle", "titleAngle": 0}
            },
            "color": {
              "field": "year", "type": "nominal",
              "scale": {"domain": ["2022", "2023", "2024"], "range": ["#3560A9", "#C0282F", "#000000"]},
              "legend": {"orient": "none", "legendX": 75, "legendY": -3, "direction": "horizontal", "title": null, "padding": 0, "symbolType": "stroke", "symbolSize": 780, "symbolStrokeWidth": 2.5, "labelFont": "DejaVu Sans", "labelFontSize": 10, "labelColor": "#000000", "labelOffset": 4, "columnPadding": 67}
            }
          }
        },
        {
          "mark": {"type": "rule", "color": "#595959", "strokeWidth": 1.5},
          "encoding": {
            "x": {"datum": {"year": 2011, "month": 11, "date": 29}, "type": "temporal"},
            "x2": {"datum": {"year": 2013, "month": 1, "date": 5}},
            "y": {"datum": 31277, "type": "quantitative"}
          }
        },
        {
          "mark": {"type": "rule", "color": "#595959", "strokeWidth": 1.5},
          "encoding": {
            "x": {"datum": {"year": 2011, "month": 11, "date": 29}, "type": "temporal"},
            "x2": {"datum": {"year": 2013, "month": 1, "date": 5}},
            "y": {"datum": 4369, "type": "quantitative"}
          }
        }
      ]
    }
  ]
}
